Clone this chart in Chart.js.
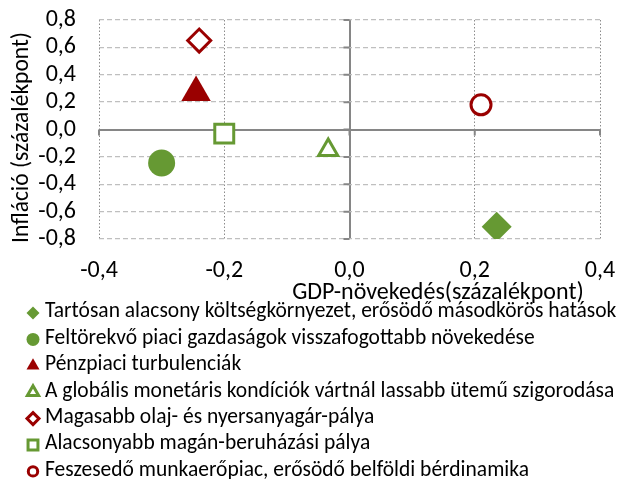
<!DOCTYPE html>
<html>
<head>
<meta charset="utf-8">
<script src="https://cdn.jsdelivr.net/npm/chart.js@4.4.1/dist/chart.umd.min.js"></script>
<style>
  html, body { margin: 0; padding: 0; background: #fff; }
  #wrap { position: relative; width: 617px; height: 479px; }
</style>
</head>
<body>
<div id="wrap"><canvas id="scatterChart"></canvas></div>
<script>
// Forgatókönyvek (kockázati szcenáriók)
var szcenariok = [
    'Tartósan alacsony költségkörnyezet, erősödő másodkörös hatások',
    'Feltörekvő piaci gazdaságok visszafogottabb növekedése',
    'Pénzpiaci turbulenciák',
    'A globális monetáris kondíciók vártnál lassabb ütemű szigorodása',
    'Magasabb olaj- és nyersanyagár-pálya',
    'Alacsonyabb magán-beruházási pálya',
    'Feszesedő munkaerőpiac, erősödő belföldi bérdinamika'
];
// GDP-növekedés eltérése (százalékpont)
var gdpHatas = [0.235, -0.30, -0.245, -0.034, -0.24, -0.20, 0.21];
// Infláció eltérése (százalékpont)
var inflHatas = [-0.71, -0.245, 0.27, -0.15, 0.65, -0.03, 0.18];
// Tengelyek
var xTicks = [-0.4, -0.2, 0.0, 0.2, 0.4];
var yTicks = [-0.8, -0.6, -0.4, -0.2, 0.0, 0.2, 0.4, 0.6, 0.8];

// Jelölők stílusa
var zold = '#669933';
var piros = '#9a0000';
var stilusok = [
    { pointStyle: 'rectRot',  color: zold,  filled: true,  radius: 15,   legendR: 6.5 },
    { pointStyle: 'circle',   color: zold,  filled: true,  radius: 13.5, legendR: 6.5 },
    { pointStyle: 'triangle', color: piros, filled: true,  radius: 17,   legendR: 7.5 },
    { pointStyle: 'triangle', color: zold,  filled: false, radius: 11,   legendR: 6.5 },
    { pointStyle: 'rectRot',  color: piros, filled: false, radius: 11.5, legendR: 6 },
    { pointStyle: 'rect',     color: zold,  filled: false, radius: 13.4, legendR: 7 },
    { pointStyle: 'circle',   color: piros, filled: false, radius: 10,   legendR: 4.7 }
];

var betu = 'Carlito, Calibri, "Liberation Sans Narrow", sans-serif';
Chart.defaults.font.family = betu;
Chart.defaults.color = '#000';

function szamFormat(v) {
    return (Math.round(v * 10) / 10).toFixed(1).replace('.', ',');
}

// kis jelölő a jelmagyarázathoz
function jelolo(ctx, s, x, y) {
    var r = s.legendR;
    ctx.beginPath();
    if (s.pointStyle === 'circle') {
        ctx.arc(x, y, r, 0, Math.PI * 2);
    } else if (s.pointStyle === 'rectRot') {
        ctx.moveTo(x, y - r);
        ctx.lineTo(x + r, y);
        ctx.lineTo(x, y + r);
        ctx.lineTo(x - r, y);
    } else if (s.pointStyle === 'rect') {
        var h = r * Math.SQRT1_2;
        ctx.rect(x - h, y - h, 2 * h, 2 * h);
    } else if (s.pointStyle === 'triangle') {
        ctx.moveTo(x, y - r);
        ctx.lineTo(x + r * 0.866, y + r * 0.5);
        ctx.lineTo(x - r * 0.866, y + r * 0.5);
    }
    ctx.closePath();
    ctx.fillStyle = s.filled ? s.color : '#fff';
    ctx.fill();
    if (!s.filled) {
        ctx.strokeStyle = s.color;
        ctx.lineWidth = 3;
        ctx.stroke();
    }
}

var datasets = szcenariok.map(function (nev, i) {
    var s = stilusok[i];
    return {
        label: nev,
        data: [{ x: gdpHatas[i], y: inflHatas[i] }],
        pointStyle: s.pointStyle,
        pointRadius: s.radius,
        pointHoverRadius: s.radius,
        backgroundColor: s.filled ? s.color : '#fff',
        borderColor: s.color,
        pointBorderWidth: s.filled ? 0 : 3,
        pointHoverBorderWidth: s.filled ? 0 : 3
    };
});

// Nulla tengelyek és rajtuk a kis osztásjelek
var tengelyPlugin = {
    id: 'tengelyek',
    beforeDatasetsDraw: function (chart) {
        var ctx = chart.ctx;
        var xs = chart.scales.x, ys = chart.scales.y;
        var x0 = xs.getPixelForValue(0), y0 = ys.getPixelForValue(0);
        ctx.save();
        ctx.strokeStyle = '#868686';
        ctx.lineWidth = 2;
        ctx.beginPath();
        yTicks.forEach(function (t) {
            var py = ys.getPixelForValue(t);
            ctx.moveTo(x0 - 6, py);
            ctx.lineTo(x0, py);
        });
        xTicks.forEach(function (t) {
            var px = xs.getPixelForValue(t);
            ctx.moveTo(px, y0);
            ctx.lineTo(px, y0 + 6);
        });
        ctx.stroke();
        ctx.restore();
    }
};

// Jelmagyarázat soronként, a diagram alatt
var jelmagyarazatPlugin = {
    id: 'jelmagyarazat',
    afterDraw: function (chart) {
        var ctx = chart.ctx;
        var y = 312;
        ctx.save();
        chart.data.datasets.forEach(function (ds, i) {
            jelolo(ctx, stilusok[i], 33, y + 1);
            ctx.font = '21.5px ' + betu;
            ctx.textBaseline = 'middle';
            ctx.textAlign = 'left';
            ctx.fillStyle = '#000';
            ctx.fillText(ds.label, 45, y);
            y += 26.4;
        });
        ctx.restore();
    }
};

var chart = new Chart(document.getElementById('scatterChart').getContext('2d'), {
    type: 'scatter',
    data: { datasets: datasets },
    plugins: [tengelyPlugin, jelmagyarazatPlugin],
    options: {
        responsive: true,
        maintainAspectRatio: false,
        animation: false,
        layout: { padding: { top: 20, right: 17, bottom: 172, left: 0 } },
        plugins: {
            legend: { display: false },
            tooltip: { enabled: false }
        },
        scales: {
            x: {
                type: 'linear',
                min: -0.4,
                max: 0.4,
                afterBuildTicks: function (scale) {
                    scale.ticks = xTicks.map(function (v) { return { value: v }; });
                },
                afterFit: function (scale) {
                    scale.height = 68;
                    scale.paddingLeft = 0;
                    scale.paddingRight = 0;
                },
                ticks: {
                    autoSkip: false,
                    maxRotation: 0,
                    padding: 18,
                    font: { size: 24 },
                    color: '#000',
                    callback: function (v) { return szamFormat(v); }
                },
                grid: {
                    drawTicks: false,
                    color: function (c) { return c.tick && c.tick.value === 0 ? '#868686' : '#8c8c8c'; },
                    lineWidth: function (c) { return c.tick && c.tick.value === 0 ? 2 : 1; }
                },
                border: {
                    display: false,
                    dash: function (c) { return c.tick && c.tick.value === 0 ? [] : [1.5, 2]; }
                },
                title: {
                    display: true,
                    text: 'GDP-növekedés(százalékpont)\u00a0\u00a0\u00a0',
                    align: 'end',
                    font: { size: 24 },
                    color: '#000',
                    padding: { top: 0, bottom: 0 }
                }
            },
            y: {
                type: 'linear',
                min: -0.8,
                max: 0.8,
                afterBuildTicks: function (scale) {
                    scale.ticks = yTicks.map(function (v) { return { value: v }; });
                },
                afterFit: function (scale) {
                    scale.width = 99;
                    scale.paddingTop = 0;
                    scale.paddingBottom = 0;
                },
                ticks: {
                    autoSkip: false,
                    padding: 23,
                    font: { size: 24 },
                    color: '#000',
                    callback: function (v) { return szamFormat(v); }
                },
                grid: {
                    drawTicks: false,
                    color: function (c) { return c.tick && c.tick.value === 0 ? '#868686' : '#bfbfbf'; },
                    lineWidth: function (c) { return c.tick && c.tick.value === 0 ? 2 : 1.3; }
                },
                border: {
                    display: false,
                    dash: function (c) { return c.tick && c.tick.value === 0 ? [] : [5, 3]; }
                },
                title: {
                    display: true,
                    text: 'Infláció (százalékpont)\u00a0\u00a0\u00a0',
                    font: { size: 23.5 },
                    color: '#000',
                    padding: { top: 8, bottom: 0 }
                }
            }
        }
    }
});
</script>
</body>
</html>
